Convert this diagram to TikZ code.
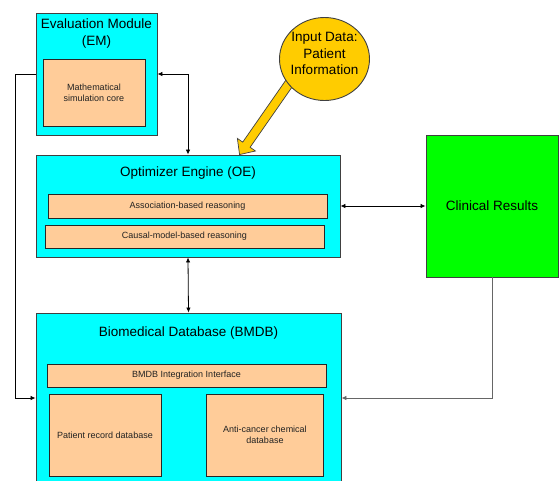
\documentclass[tikz,border=0pt]{standalone}
\usepackage{fontspec}
\setmainfont{Liberation Sans}
\usetikzlibrary{calc,arrows.meta,shapes.geometric}
\definecolor{boxcyan}{HTML}{00FFFF}
\definecolor{peach}{HTML}{FFCC99}
\definecolor{cgreen}{HTML}{00FF00}
\definecolor{cyellow}{HTML}{FFCC00}
\definecolor{edgegray}{HTML}{404040}
\definecolor{txtdark}{HTML}{222222}
\begin{document}
\begin{tikzpicture}[x=1pt,y=-1pt,
  outerbox/.style={draw=edgegray,line width=0.9pt,fill=boxcyan,inner sep=0pt,rectangle},
  innerbox/.style={draw=black!85,line width=0.8pt,fill=peach,inner sep=0pt,rectangle,
    font=\fontsize{9}{11}\selectfont,text=txtdark,align=center},
  titletext/.style={font=\fontsize{13.5}{16.5}\selectfont,align=center,inner sep=0pt},
  conn/.style={draw=black,line width=0.8pt},
  tip/.style={-{Latex[length=5pt,width=4.5pt]}},
  bitip/.style={{Latex[length=5pt,width=4.5pt]}-{Latex[length=5pt,width=4.5pt]}}]
\useasboundingbox (0,0) rectangle (560,480);
\clip (0,0) rectangle (560,480);
% Evaluation Module
\node[outerbox,minimum width=121pt,minimum height=122pt] (em) at (96.5,74) {};
\node[titletext] (emt) at (96.5,33.5) {Evaluation Module\\(EM)};
\node[innerbox,minimum width=102pt,minimum height=67pt] (emi) at (94,92.5) {Mathematical\\simulation core};
% Optimizer Engine
\node[outerbox,minimum width=304pt,minimum height=102pt] (oe) at (188,206) {};
\node[titletext] (oet) at (188,173) {Optimizer Engine (OE)};
\node[innerbox,minimum width=279pt,minimum height=24pt] (oe1) at (187.5,206) {Association-based reasoning};
\node[innerbox,minimum width=279pt,minimum height=23pt] (oe2) at (184.5,236.5) {Causal-model-based reasoning};
% Biomedical Database
\node[outerbox,minimum width=305pt,minimum height=170pt] (bm) at (188.5,398) {};
\node[titletext] (bmt) at (188.5,333) {Biomedical Database (BMDB)};
\node[innerbox,minimum width=279pt,minimum height=23pt] (bm1) at (186.5,375.5) {BMDB Integration Interface};
\node[innerbox,minimum width=112pt,minimum height=82pt] (bm2) at (105,435) {Patient record database};
\node[innerbox,minimum width=117pt,minimum height=82pt] (bm3) at (265,435) {Anti-cancer chemical\\database};
% Clinical Results
\node[draw=edgegray,line width=0.9pt,fill=cgreen,minimum width=132pt,minimum height=142pt,
  font=\fontsize{13.5}{16.5}\selectfont] (cr) at (492,206) {Clinical Results};
% fat arrow from input data to OE
\coordinate (fs) at (297,72);
\coordinate (ft) at ($(oe.north west)+(204,0)$);
\coordinate (fb) at ($(ft)!12pt!(fs)$);
\fill[cyellow,draw=edgegray,line width=0.7pt]
  ($(fs)!4.5pt!90:(ft)$) -- ($(fb)!4.5pt!-90:(fs)$) -- ($(fb)!11pt!-90:(fs)$) -- (ft)
  -- ($(fb)!11pt!90:(fs)$) -- ($(fb)!4.5pt!90:(fs)$) -- ($(fs)!4.5pt!-90:(ft)$) -- cycle;
% Input data ellipse
\node[ellipse,draw=edgegray,line width=0.9pt,fill=cyellow,minimum width=90pt,minimum height=83pt,
  inner sep=0pt] (in) at (324.5,59) {};
\node[titletext] (intext) at (324.5,53.5) {Input Data:\\Patient\\Information};
% connectors
\draw[conn,bitip] (em.east) -| (oe.north);
\draw[conn,bitip] (oe.south) -- (bm.north);
\draw[conn,bitip] (oe.east) -- (cr.west);
\coordinate (lft) at (15,74);
\draw[conn,tip] (em.west) -- (lft) |- (bm.west);
\draw[conn,tip,draw=black!60] (cr.south) |- (bm.east);
\end{tikzpicture}
\end{document}
